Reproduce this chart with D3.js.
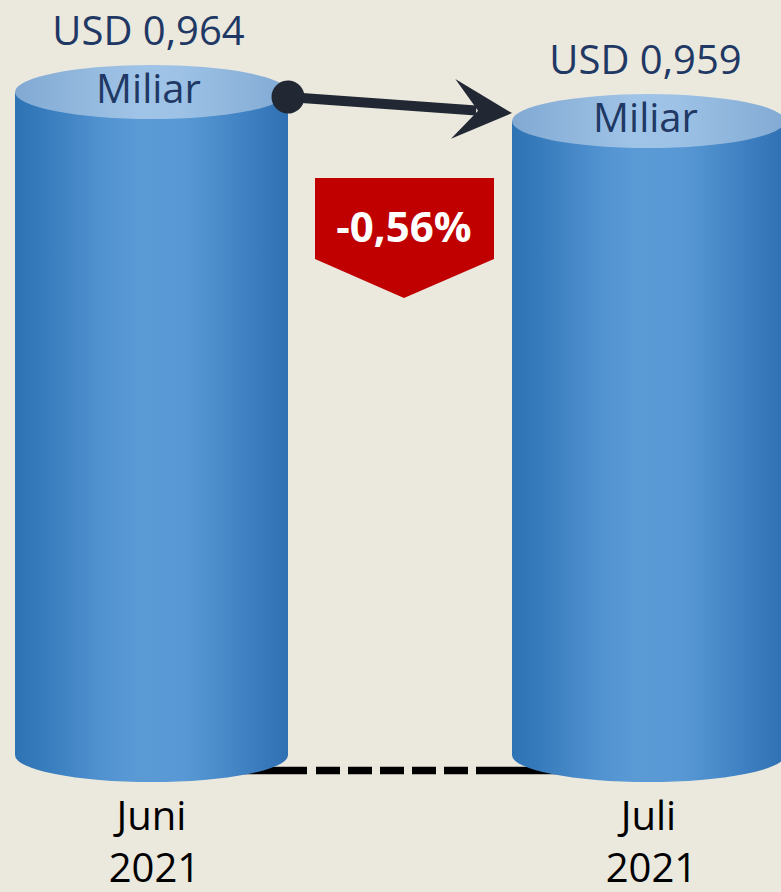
<!DOCTYPE html>
<html>
<head>
  <title>USD Miliar Juni - Juli 2021</title>
  <style>
    body { margin: 0; background: #ebe8de; }
    svg { display: block; }
    text { font-family: "Open Sans", "Noto Sans", sans-serif; }
  </style>
</head>
<body>
  <svg id="chart"></svg>

  <script src="https://d3js.org/d3.v7.min.js"></script>
  <script>
    // values
    const months = ['Juni', 'Juli'];
    const years = ['2021', '2021'];
    const values = [0.964, 0.959];
    const valueLabels = ['USD 0,964', 'USD 0,959'];
    const unitLabels = ['Miliar', 'Miliar'];
    const changeLabel = '-0,56%';

    const width = 781, height = 892;
    const ry = 27;

    const svg = d3.select('#chart')
      .attr('width', width)
      .attr('height', height);

    const data = months.map((m, i) => ({ month: m, year: years[i], value: values[i], label: valueLabels[i], unit: unitLabels[i] }));

    const x = d3.scaleBand()
      .domain(months)
      .range([15, 785])
      .paddingInner(0.4507)
      .paddingOuter(0);

    // axis does not start at zero in the original
    const y = d3.scaleLinear()
      .domain([0.85, 0.964])
      .range([755, 92]);

    const bw = x.bandwidth();
    const base = y.domain()[0];

    // gradients
    const defs = svg.append('defs');
    const bodyGrad = defs.append('linearGradient').attr('id', 'body')
      .attr('x1', '0%').attr('x2', '100%').attr('y1', '0%').attr('y2', '0%');
    [[0, '#2e73b4'], [0.08, '#3479ba'], [0.3, '#4f90cf'], [0.45, '#5a9bd6'], [0.62, '#5899d5'], [0.85, '#3f80c2'], [1, '#2e70b1']]
      .forEach(s => bodyGrad.append('stop').attr('offset', s[0]).attr('stop-color', s[1]));
    const capGrad = defs.append('linearGradient').attr('id', 'cap')
      .attr('x1', '0%').attr('x2', '100%').attr('y1', '0%').attr('y2', '0%');
    [[0, '#81a9d2'], [0.45, '#a0c4e7'], [0.6, '#9dc2e6'], [1, '#82aad3']]
      .forEach(s => capGrad.append('stop').attr('offset', s[0]).attr('stop-color', s[1]));

    // baseline (solid ends, dashed middle)
    const lineY = y(base) + 15.5;
    const xL = x(months[0]) + bw / 2, xR = x(months[1]) + bw / 2;
    svg.append('line')
      .attr('x1', xL).attr('x2', 307).attr('y1', lineY).attr('y2', lineY)
      .attr('stroke', '#000').attr('stroke-width', 7.5);
    svg.append('line')
      .attr('x1', 316).attr('x2', 492).attr('y1', lineY).attr('y2', lineY)
      .attr('stroke', '#000').attr('stroke-width', 7.5)
      .attr('stroke-dasharray', '24,8');
    svg.append('line')
      .attr('x1', 492).attr('x2', xR).attr('y1', lineY).attr('y2', lineY)
      .attr('stroke', '#000').attr('stroke-width', 7.5);

    // cylinders
    const cyl = svg.selectAll('.cyl')
      .data(data)
      .enter()
      .append('g')
      .attr('class', 'cyl');

    cyl.append('path')
      .attr('fill', 'url(#body)')
      .attr('d', d => {
        const x0 = x(d.month), x1 = x0 + bw;
        const t = y(d.value), b = y(base);
        return `M${x0},${t} L${x0},${b} A${bw / 2},${ry} 0 0 0 ${x1},${b} L${x1},${t} Z`;
      });

    cyl.append('ellipse')
      .attr('cx', d => x(d.month) + bw / 2)
      .attr('cy', d => y(d.value))
      .attr('rx', bw / 2)
      .attr('ry', ry)
      .attr('fill', 'url(#cap)');

    // value labels
    cyl.append('text')
      .attr('x', d => x(d.month) + bw / 2 - 3)
      .attr('y', d => y(d.value) - 47)
      .attr('text-anchor', 'middle')
      .attr('font-size', 40)
      .attr('fill', '#1f3864')
      .text(d => d.label);

    cyl.append('text')
      .attr('x', d => x(d.month) + bw / 2 - 3)
      .attr('y', d => y(d.value) + 11)
      .attr('text-anchor', 'middle')
      .attr('font-size', 40)
      .attr('fill', '#1f3864')
      .text(d => d.unit);

    // category labels
    cyl.append('text')
      .attr('x', d => x(d.month) + bw / 2)
      .attr('y', 830)
      .attr('text-anchor', 'middle')
      .attr('font-size', 40)
      .attr('fill', '#000')
      .text(d => d.month);

    cyl.append('text')
      .attr('x', d => x(d.month) + bw / 2 + 3)
      .attr('y', 882)
      .attr('text-anchor', 'middle')
      .attr('font-size', 40)
      .attr('fill', '#000')
      .text(d => d.year);

    // arrow from June top to July top
    const ax0 = x(months[0]) + bw, ay0 = y(values[0]) + 5;
    const ax1 = x(months[1]), ay1 = y(values[1]) - 8;
    const ang = Math.atan2(ay1 - ay0, ax1 - ax0) * 180 / Math.PI;
    const len = Math.hypot(ax1 - ax0, ay1 - ay0);
    const arrow = svg.append('g')
      .attr('transform', `translate(${ax0},${ay0}) rotate(${ang})`);
    arrow.append('line')
      .attr('x1', 0).attr('x2', len - 36).attr('y1', 0).attr('y2', 0)
      .attr('stroke', '#212833').attr('stroke-width', 10);
    arrow.append('path')
      .attr('fill', '#212833')
      .attr('d', `M${len},0 L${len - 59},-30 L${len - 34},0 L${len - 59},30 Z`);
    arrow.append('circle')
      .attr('r', 16.5)
      .attr('fill', '#212833');

    // change badge
    const bx = 404;
    svg.append('path')
      .attr('fill', '#c00000')
      .attr('d', `M${bx - 89},178 L${bx + 90},178 L${bx + 90},259 L${bx},298 L${bx - 89},259 Z`);
    svg.append('text')
      .attr('x', bx)
      .attr('y', 242)
      .attr('text-anchor', 'middle')
      .attr('font-size', 42)
      .attr('font-weight', 'bold')
      .attr('fill', '#fff')
      .text(changeLabel);
  </script>
</body>
</html>
